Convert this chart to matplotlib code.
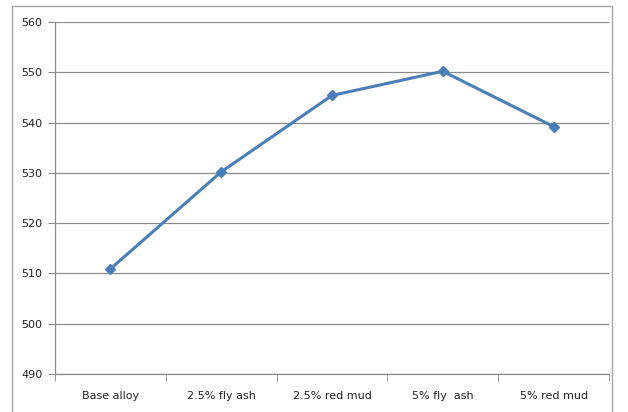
import matplotlib.pyplot as plt
from matplotlib.patches import Rectangle

# data
categories = ['Base alloy', '2.5% fly ash', '2.5% red mud', '5% fly  ash', '5% red mud']
values = [510.9, 530.2, 545.4, 550.2, 539.2]
yticks = [490, 500, 510, 520, 530, 540, 550, 560]

W, H = 628, 412
fig = plt.figure(figsize=(W / 100, H / 100), dpi=100)

# outer chart frame (grey box, runs off the bottom of the picture)
fig.patches.append(Rectangle((12 / W, -0.05), (612 - 12) / W, 1.05 - 5.5 / H,
                             transform=fig.transFigure, fill=False,
                             edgecolor='#a6a6a6', linewidth=1.0))

ax = fig.add_axes([55 / W, 1 - 374 / H, (609 - 55) / W, (374 - 22) / H])

x = list(range(len(categories)))
ax.plot(x, values, color='#4a7ebb', linewidth=2.2, marker='D', markersize=5,
        markerfacecolor='#4a7ebb', markeredgecolor='#4a7ebb')

ax.set_xlim(-0.5, len(categories) - 0.5)
ax.set_ylim(490, 560)
ax.set_yticks(yticks)
ax.set_yticklabels([str(v) for v in yticks], fontsize=8, color='#222222')

# category labels centred, tick marks between categories
ax.set_xticks(x)
ax.set_xticklabels(categories, fontsize=8, color='#222222')
ax.tick_params(axis='x', length=0, pad=12)
ax.set_xticks([i - 0.5 for i in range(len(categories) + 1)], minor=True)
ax.tick_params(axis='x', which='minor', length=5, color='#888888', direction='out')
ax.tick_params(axis='y', length=5, color='#888888', direction='out', pad=4)

ax.grid(axis='y', color='#8c8c8c', linewidth=0.9)
ax.set_axisbelow(True)
for side in ['top', 'right']:
    ax.spines[side].set_visible(False)
for side in ['left', 'bottom']:
    ax.spines[side].set_color('#8c8c8c')
    ax.spines[side].set_linewidth(0.9)

fig.savefig('out.png', dpi=100)
